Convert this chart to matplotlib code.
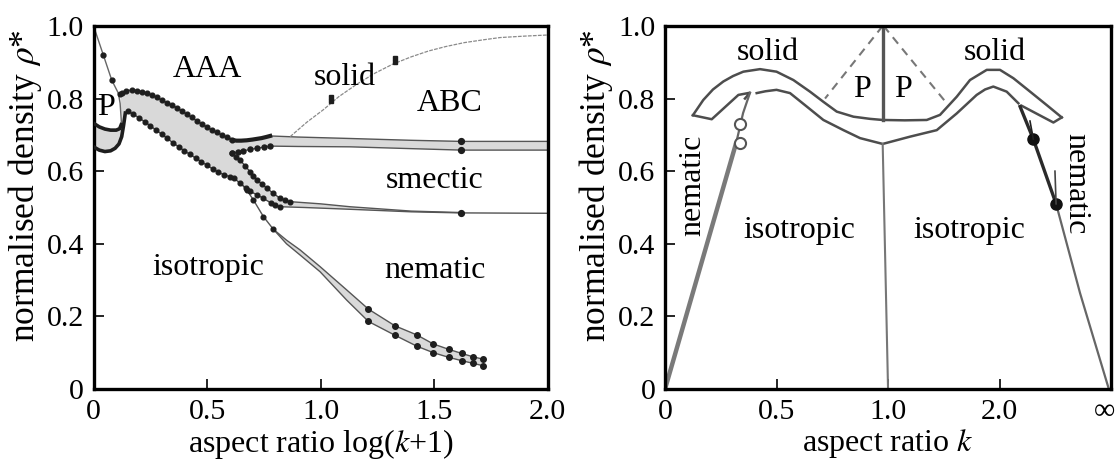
import numpy as np
import matplotlib
matplotlib.use('Agg')
from matplotlib import pyplot as plt
from matplotlib import transforms

plt.rcParams['font.family'] = ['Liberation Serif', 'DejaVu Serif']
plt.rcParams['mathtext.fontset'] = 'stix'
FS_TICK = 21.5
FS_X = 23
FS_Y = 25.5
FS_IN = 23

# ---------- left panel: log(k+1) vs rho* ----------
desc_x = [0.0, 0.043, 0.080, 0.109, 0.117, 0.122, 0.124]
desc_y = [1.0, 0.920, 0.851, 0.815, 0.787, 0.741, 0.720]

p_up_x = [0.0, 0.025, 0.05, 0.075, 0.100, 0.115, 0.122]
p_up_y = [0.732, 0.722, 0.716, 0.713, 0.713, 0.717, 0.728]
p_lo_x = [0.0, 0.025, 0.05, 0.075, 0.095, 0.112, 0.124, 0.132, 0.140]
p_lo_y = [0.667, 0.658, 0.654, 0.656, 0.663, 0.675, 0.695, 0.725, 0.760]

aaa_top_x = [0.118, 0.124, 0.145, 0.168, 0.190, 0.212, 0.234, 0.256, 0.278, 0.300,
             0.322, 0.344, 0.366, 0.388, 0.410, 0.432, 0.454, 0.476, 0.498, 0.520,
             0.542, 0.564, 0.586, 0.609]
aaa_top_y = [0.812, 0.815, 0.822, 0.823, 0.822, 0.819, 0.815, 0.810, 0.803, 0.796,
             0.789, 0.782, 0.775, 0.766, 0.757, 0.748, 0.739, 0.730, 0.722, 0.714,
             0.707, 0.700, 0.693, 0.686]

flat_x = [0.609, 0.630, 0.650, 0.675, 0.700, 0.720, 0.740, 0.760, 0.778]
flat_y = [0.686, 0.684, 0.684, 0.685, 0.687, 0.689, 0.691, 0.694, 0.697]

abc_top_x = [0.778, 0.900, 1.130, 1.400, 1.620, 2.0]
abc_top_y = [0.697, 0.694, 0.690, 0.685, 0.682, 0.682]

abc_lo_x = [0.609, 0.635, 0.660, 0.690, 0.719, 0.750, 0.778, 0.900, 1.130, 1.400, 1.620, 2.0]
abc_lo_y = [0.649, 0.653, 0.656, 0.660, 0.663, 0.666, 0.669, 0.668, 0.667, 0.662, 0.658, 0.658]

aaa_lo_x = [0.150, 0.175, 0.200, 0.225, 0.250, 0.275, 0.300, 0.325, 0.350, 0.375,
            0.400, 0.425, 0.450, 0.475, 0.500, 0.525, 0.550, 0.575, 0.600, 0.620,
            0.645, 0.670, 0.690, 0.720, 0.748, 0.780, 0.800, 0.822]
aaa_lo_y = [0.765, 0.757, 0.747, 0.736, 0.725, 0.713, 0.702, 0.690, 0.678, 0.667,
            0.656, 0.646, 0.636, 0.626, 0.616, 0.606, 0.597, 0.590, 0.585, 0.580,
            0.567, 0.553, 0.544, 0.535, 0.525, 0.513, 0.507, 0.502]
sm_lo_tail_x = [0.822, 0.925, 1.130, 1.400, 1.620, 2.0]
sm_lo_tail_y = [0.502, 0.500, 0.495, 0.488, 0.485, 0.484]

sm_up_x = [0.609, 0.627, 0.645, 0.667, 0.689, 0.704, 0.719, 0.741, 0.763, 0.790,
           0.822, 0.845, 0.866]
sm_up_y = [0.649, 0.640, 0.631, 0.615, 0.599, 0.588, 0.576, 0.565, 0.553, 0.540,
           0.525, 0.520, 0.516]
sm_up_tail_x = [0.866, 1.000, 1.130, 1.400, 1.620]
sm_up_tail_y = [0.516, 0.510, 0.502, 0.490, 0.486]

nem_up_x = [0.660, 0.675, 0.704, 0.748, 0.792, 0.850, 0.910, 0.998, 1.115, 1.211,
            1.328, 1.424, 1.497, 1.566, 1.622, 1.670, 1.717]
nem_up_y = [0.560, 0.548, 0.521, 0.475, 0.440, 0.410, 0.383, 0.337, 0.273, 0.220,
            0.174, 0.149, 0.124, 0.109, 0.098, 0.089, 0.082]
nem_lo_x = [0.792, 0.850, 0.910, 0.998, 1.115, 1.211, 1.328, 1.424, 1.497, 1.566,
            1.622, 1.670, 1.717]
nem_lo_y = [0.440, 0.400, 0.369, 0.323, 0.245, 0.186, 0.148, 0.118, 0.100, 0.087,
            0.078, 0.071, 0.064]

sol_x = [0.866, 0.940, 1.012, 1.080, 1.161, 1.240, 1.319, 1.400, 1.476, 1.550,
         1.633, 1.720, 1.791, 1.900, 2.0]
sol_y = [0.695, 0.735, 0.769, 0.805, 0.840, 0.870, 0.895, 0.915, 0.931, 0.943,
         0.954, 0.962, 0.968, 0.972, 0.975]

stray_x = [1.048, 1.048, 1.327, 1.327]
stray_y = [0.803, 0.794, 0.912, 0.902]

left_labels = [('AAA', 0.50, 0.881), ('P', 0.055, 0.776), ('solid', 1.106, 0.858),
               ('ABC', 1.567, 0.785), ('smectic', 1.504, 0.574),
               ('isotropic', 0.505, 0.336), ('nematic', 1.504, 0.327)]

# ---------- right panel: k (warped axis) vs rho* ----------
k_ticks = [0, 1, 2, 3, 4]
k_labels = ['0', '0.5', '1.0', '2.0', '\u221e']

outer_u = [0.25, 0.343, 0.43, 0.523, 0.61, 0.702, 0.852, 1.0, 1.151, 1.30, 1.42, 1.54,
           1.69, 1.84, 1.952, 2.15, 2.347, 2.466, 2.616, 2.735, 2.885, 3.004, 3.124,
           3.274, 3.423, 3.558]
outer_r = [0.754, 0.796, 0.825, 0.847, 0.862, 0.874, 0.881, 0.874, 0.851, 0.819, 0.791,
           0.764, 0.750, 0.744, 0.741, 0.740, 0.741, 0.755, 0.805, 0.851, 0.879, 0.879,
           0.856, 0.819, 0.782, 0.748]
rtail_u = [3.558, 3.483, 3.199]
rtail_r = [0.748, 0.734, 0.780]
inner_u = [3.169, 3.064, 2.944, 2.870, 2.795, 2.616, 2.437, 2.197, 1.952, 1.749, 1.60,
           1.42, 1.271, 1.121, 1.0, 0.90, 0.822]
inner_r = [0.787, 0.819, 0.833, 0.825, 0.810, 0.759, 0.713, 0.695, 0.675, 0.691, 0.713,
           0.741, 0.778, 0.815, 0.824, 0.820, 0.815]
ltail_u = [0.25, 0.419, 0.658, 0.762, 0.717]
ltail_r = [0.754, 0.743, 0.810, 0.816, 0.800]

lcoex_u = [0.0, 0.64, 0.70, 0.762]
lcoex_r = [0.0, 0.680, 0.760, 0.816]
open_u = [0.668, 0.672]
open_r = [0.730, 0.677]

rnem_u = [3.184, 3.303, 3.507, 3.722, 3.98]
rnem_r = [0.778, 0.688, 0.510, 0.264, 0.0]
filled_u = [3.303, 3.507]
filled_r = [0.688, 0.510]

vert_top_u = [1.952, 1.952]
vert_top_r = [1.0, 0.741]
vert_lo_u = [1.952, 2.0]
vert_lo_r = [0.675, 0.0]
dash_l_u = [1.952, 1.435]
dash_l_r = [1.0, 0.800]
dash_r_u = [1.96, 2.526]
dash_r_r = [1.0, 0.787]

right_labels = [('solid', 0.918, 0.927, 0), ('solid', 2.96, 0.927, 0),
                ('P', 1.766, 0.826, 0), ('P', 2.134, 0.826, 0),
                ('isotropic', 1.2, 0.437, 0), ('isotropic', 2.726, 0.437, 0),
                ('nematic', 0.245, 0.562, 90), ('nematic', 3.68, 0.565, -90)]

GREY = '#d9d9d9'
DOT = '#1e1e1e'

fig = plt.figure(figsize=(11.19, 4.59), dpi=100)
ax1 = fig.add_axes([0.0836, 0.1525, 0.4057, 0.791])
ax2 = fig.add_axes([0.5943, 0.1525, 0.3986, 0.791])

# grey coexistence regions
poly_x = np.concatenate([p_up_x, [0.122, 0.120], aaa_top_x, flat_x, abc_top_x,
                         abc_lo_x[::-1], sm_up_x, sm_up_tail_x,
                         sm_lo_tail_x[::-1], aaa_lo_x[::-1], p_lo_x[::-1]])
poly_y = np.concatenate([p_up_y, [0.760, 0.790], aaa_top_y, flat_y, abc_top_y,
                         abc_lo_y[::-1], sm_up_y, sm_up_tail_y,
                         sm_lo_tail_y[::-1], aaa_lo_y[::-1], p_lo_y[::-1]])
ax1.fill(poly_x, poly_y, color=GREY, lw=0, zorder=1)
ax1.fill(np.concatenate([nem_up_x, nem_lo_x[::-1]]),
         np.concatenate([nem_up_y, nem_lo_y[::-1]]), color=GREY, lw=0, zorder=1)

# boundaries
ax1.plot(desc_x, desc_y, color='#666', lw=1.0, zorder=2)
ax1.plot(desc_x[1:3], desc_y[1:3], 'o', color=DOT, ms=3.5, zorder=3)
ax1.plot(p_up_x, p_up_y, color=DOT, lw=2.6, zorder=3)
ax1.plot(p_lo_x, p_lo_y, color=DOT, lw=2.6, zorder=3)
ax1.plot(aaa_top_x, aaa_top_y, color='#444', lw=1.0, marker='o', ms=3.4, mfc=DOT, mec=DOT, zorder=3)
ax1.plot(flat_x, flat_y, color=DOT, lw=3.0, zorder=3)
ax1.plot(abc_top_x, abc_top_y, color='#555', lw=1.0, zorder=2)
ax1.plot(abc_lo_x, abc_lo_y, color='#555', lw=1.0, zorder=2)
ax1.plot(abc_lo_x[:7], abc_lo_y[:7], 'o', color=DOT, ms=3.6, zorder=3)
ax1.plot(aaa_lo_x, aaa_lo_y, color='#444', lw=1.0, marker='o', ms=3.4, mfc=DOT, mec=DOT, zorder=3)
ax1.plot(sm_lo_tail_x, sm_lo_tail_y, color='#555', lw=1.0, zorder=2)
ax1.plot(sm_up_x, sm_up_y, color='#444', lw=1.0, marker='o', ms=3.4, mfc=DOT, mec=DOT, zorder=3)
ax1.plot(sm_up_tail_x, sm_up_tail_y, color='#555', lw=1.0, zorder=2)
ax1.plot([abc_top_x[4], abc_lo_x[10], sm_lo_tail_x[4]],
         [abc_top_y[4], abc_lo_y[10], sm_lo_tail_y[4]], 'o', color=DOT, ms=4.2, zorder=3)
ax1.plot(nem_up_x, nem_up_y, color='#555', lw=1.0, zorder=2)
ax1.plot(nem_lo_x, nem_lo_y, color='#555', lw=1.0, zorder=2)
ax1.plot(nem_up_x[1:5], nem_up_y[1:5], 'o', color=DOT, ms=3.4, zorder=3)
ax1.plot(nem_up_x[9:], nem_up_y[9:], 'o', color=DOT, ms=4.0, zorder=3)
ax1.plot(nem_lo_x[5:], nem_lo_y[5:], 'o', color=DOT, ms=4.0, zorder=3)
ax1.plot(sol_x, sol_y, color='#8a8a8a', lw=0.9, ls=(0, (3, 1)), zorder=2)
ax1.plot(stray_x, stray_y, 's', color=DOT, ms=2.8, zorder=3)

for txt, x, y in left_labels:
    ax1.text(x, y, txt, fontsize=FS_IN, ha='center', va='center', zorder=4)

ax1.set_xlim(0, 2.0)
ax1.set_ylim(0, 1.0)
ax1.set_xticks([0, 0.5, 1.0, 1.5, 2.0])
ax1.set_xticklabels(['0', '0.5', '1.0', '1.5', '2.0'])
ax1.set_xlabel(r'aspect ratio log($k$+1)', fontsize=FS_X, labelpad=1.5)

# right panel drawing
LC = '#4d4d4d'
ax2.plot(outer_u, outer_r, color=LC, lw=1.8)
ax2.plot(rtail_u, rtail_r, color=LC, lw=1.8)
ax2.plot(inner_u, inner_r, color=LC, lw=1.8)
ax2.plot(ltail_u, ltail_r, color=LC, lw=1.8)
ax2.plot(lcoex_u[:2], lcoex_r[:2], color='#7a7a7a', lw=3.2, solid_capstyle='butt')
ax2.plot(lcoex_u[1:], lcoex_r[1:], color='#666', lw=1.6)
ax2.plot(open_u, open_r, 'o', mfc='white', mec='#555', mew=1.5, ms=8)
ax2.plot(rnem_u[:3], rnem_r[:3], color='#2a2a2a', lw=2.4)
ax2.plot(rnem_u[2:], rnem_r[2:], color='#666', lw=1.6)
ax2.plot(filled_u, filled_r, 'o', color='#111', ms=8)
ax2.plot([filled_u[0] - 0.03, filled_u[0]], [filled_r[0] + 0.05, filled_r[0]], color='#222', lw=1.2)
ax2.plot([filled_u[1] - 0.01, filled_u[1]], [filled_r[1] + 0.09, filled_r[1]], color='#444', lw=1.2)
ax2.plot(vert_top_u, vert_top_r, color='#555', lw=2.4)
ax2.plot(vert_lo_u, vert_lo_r, color='#777', lw=1.5)
ax2.plot(dash_l_u, dash_l_r, color='#777', lw=1.5, ls=(0, (4, 3)))
ax2.plot(dash_r_u, dash_r_r, color='#777', lw=1.5, ls=(0, (4, 3)))

for txt, u, r, rot in right_labels:
    ax2.text(u, r, txt, fontsize=FS_IN, ha='center', va='center', rotation=rot)

ax2.set_xlim(0, 4)
ax2.set_ylim(0, 1.0)
ax2.set_xticks(k_ticks)
ax2.set_xticklabels(k_labels)
ax2.set_xlabel(r'aspect ratio $k$', fontsize=FS_X, labelpad=1.5)

for ax in (ax1, ax2):
    ax.set_yticks([0, 0.2, 0.4, 0.6, 0.8, 1.0])
    ax.set_yticklabels(['0', '0.2', '0.4', '0.6', '0.8', '1.0'])
    ax.set_ylabel(r'normalised density $\rho$*', fontsize=FS_Y, labelpad=2)
    ax.yaxis.label.set_y(0.56)
    ax.tick_params(direction='in', length=7, width=1.2, labelsize=FS_TICK, pad=7)
    for s in ax.spines.values():
        s.set_linewidth(2.4)

# the infinity label sits on the figure edge; nudge it inside
inf_lbl = ax2.get_xticklabels()[-1]
inf_lbl.set_transform(inf_lbl.get_transform() +
                      transforms.ScaledTranslation(-5 / 72, 0, fig.dpi_scale_trans))

fig.savefig('out.png', dpi=100)
